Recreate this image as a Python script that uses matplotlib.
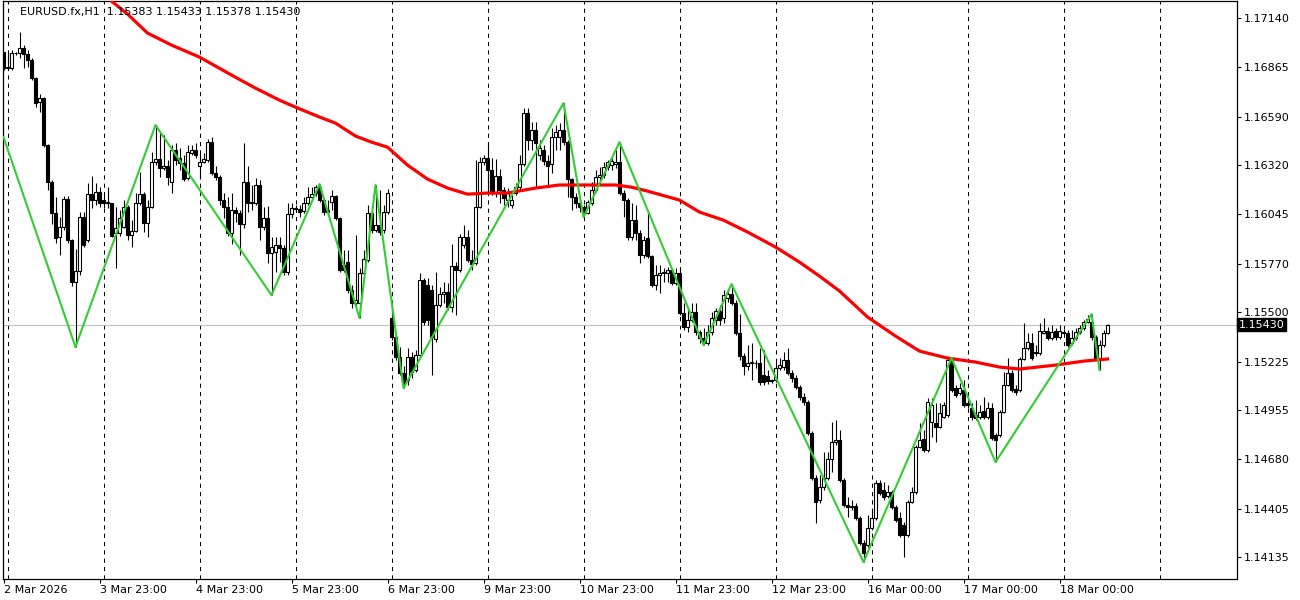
import numpy as np
import matplotlib.pyplot as plt
from matplotlib.transforms import blended_transform_factory

plt.rcParams['font.family'] = 'DejaVu Sans'

# заголовок графика (символ, период, OHLC последнего бара)
title_text = 'EURUSD.fx,H1  1.15383 1.15433 1.15378 1.15430'
last_price = 1.15430

# H1 свечи, по 10 в строке
opens = [
    1.16950, 1.16861, 1.16861, 1.16945, 1.16945, 1.16972, 1.16939, 1.16906, 1.16805, 1.16671,
    1.16694, 1.16432, 1.16225, 1.16053, 1.15919, 1.15975, 1.16131, 1.15902, 1.15668, 1.15729,
    1.16030, 1.15902, 1.16158, 1.16125, 1.16170, 1.16125, 1.16114, 1.16108, 1.15941, 1.15941,
    1.15975, 1.16086, 1.15930, 1.15952, 1.16108, 1.16158, 1.15997, 1.16086, 1.16337, 1.16354,
    1.16303, 1.16315, 1.16225, 1.16404, 1.16359, 1.16331, 1.16248, 1.16387, 1.16404, 1.16315,
    1.16337, 1.16348, 1.16448, 1.16276, 1.16253, 1.16125, 1.16086, 1.15941, 1.16069, 1.16053,
    1.15991, 1.16225, 1.16108, 1.16108, 1.16209, 1.15975, 1.16025, 1.15830, 1.15835, 1.15874,
    1.15857, 1.15724, 1.16047, 1.16075, 1.16075, 1.16064, 1.16108, 1.16142, 1.16164, 1.16198,
    1.16125, 1.16069, 1.16114, 1.16147, 1.16025, 1.15763, 1.15779, 1.15623, 1.15551, 1.15551,
    1.15718, 1.15791, 1.16053, 1.15958, 1.15986, 1.15958, 1.16058, 1.15467, 1.15361, 1.15250,
    1.15161, 1.15122, 1.15250, 1.15177, 1.15261, 1.15679, 1.15651, 1.15623, 1.15350, 1.15540,
    1.15601, 1.15612, 1.15529, 1.15757, 1.15735, 1.15874, 1.15919, 1.15791, 1.15774, 1.16086,
    1.16337, 1.16359, 1.16292, 1.16170, 1.16259, 1.16181, 1.16125, 1.16097, 1.16164, 1.16198,
    1.16326, 1.16610, 1.16460, 1.16515, 1.16376, 1.16404, 1.16342, 1.16326, 1.16476, 1.16476,
    1.16515, 1.16448, 1.16242, 1.16142, 1.16108, 1.16086, 1.16053, 1.16108, 1.16181, 1.16253,
    1.16264, 1.16309, 1.16320, 1.16326, 1.16337, 1.16164, 1.16125, 1.15919, 1.16014, 1.15941,
    1.15818, 1.15913, 1.15813, 1.15651, 1.15707, 1.15718, 1.15718, 1.15735, 1.15662, 1.15718,
    1.15495, 1.15417, 1.15456, 1.15501, 1.15389, 1.15356, 1.15328, 1.15389, 1.15456, 1.15506,
    1.15467, 1.15579, 1.15601, 1.15551, 1.15384, 1.15255, 1.15200, 1.15216, 1.15216, 1.15216,
    1.15149, 1.15144, 1.15116, 1.15122, 1.15188, 1.15194, 1.15233, 1.15161, 1.15133, 1.15083,
    1.15027, 1.14999, 1.14826, 1.14575, 1.14453, 1.14525, 1.14575, 1.14681, 1.14776, 1.14787,
    1.14564, 1.14425, 1.14414, 1.14419, 1.14352, 1.14213, 1.14202, 1.14296, 1.14352, 1.14547,
    1.14508, 1.14475, 1.14497, 1.14414, 1.14352, 1.14313, 1.14257, 1.14441, 1.14497, 1.14748,
    1.14793, 1.14731, 1.14887, 1.14882, 1.14860, 1.14915, 1.14926, 1.15233, 1.15077, 1.15049,
    1.15066, 1.14993, 1.14965, 1.14926, 1.14915, 1.14949, 1.14915, 1.14965, 1.14815, 1.14815,
    1.14943, 1.15094, 1.15161, 1.15071, 1.15066, 1.15239, 1.15300, 1.15328, 1.15278, 1.15272,
    1.15384, 1.15395, 1.15356, 1.15395, 1.15361, 1.15389, 1.15384, 1.15328, 1.15356, 1.15389,
    1.15411, 1.15445, 1.15445, 1.15361, 1.15244, 1.15317, 1.15383,
]
highs = [
    1.16950, 1.16945, 1.16961, 1.16950, 1.17062, 1.16989, 1.16961, 1.16917, 1.16811, 1.16716,
    1.16699, 1.16437, 1.16237, 1.16142, 1.16030, 1.16147, 1.16147, 1.15908, 1.15852, 1.16058,
    1.16058, 1.16220, 1.16259, 1.16220, 1.16198, 1.16153, 1.16198, 1.16108, 1.16086, 1.16069,
    1.16125, 1.16097, 1.16014, 1.16164, 1.16281, 1.16170, 1.16125, 1.16393, 1.16543, 1.16499,
    1.16487, 1.16348, 1.16432, 1.16443, 1.16415, 1.16376, 1.16432, 1.16432, 1.16443, 1.16387,
    1.16387, 1.16465, 1.16476, 1.16315, 1.16264, 1.16164, 1.16142, 1.16164, 1.16086, 1.16069,
    1.16443, 1.16315, 1.16209, 1.16248, 1.16237, 1.16086, 1.16092, 1.15919, 1.15919, 1.15919,
    1.15874, 1.16108, 1.16108, 1.16097, 1.16097, 1.16142, 1.16198, 1.16198, 1.16209, 1.16214,
    1.16136, 1.16125, 1.16181, 1.16153, 1.16030, 1.15846, 1.15846, 1.15651, 1.15930, 1.15746,
    1.15846, 1.16097, 1.16097, 1.16209, 1.16181, 1.16097, 1.16186, 1.15523, 1.15372, 1.15306,
    1.15200, 1.15300, 1.15278, 1.15289, 1.15718, 1.15690, 1.15690, 1.15651, 1.15724, 1.15640,
    1.15668, 1.15662, 1.15880, 1.15779, 1.15935, 1.15986, 1.15958, 1.15846, 1.16348, 1.16365,
    1.16376, 1.16448, 1.16359, 1.16354, 1.16298, 1.16198, 1.16192, 1.16153, 1.16220, 1.16376,
    1.16638, 1.16638, 1.16560, 1.16560, 1.16460, 1.16432, 1.16376, 1.16526, 1.16543, 1.16554,
    1.16666, 1.16460, 1.16248, 1.16164, 1.16125, 1.16097, 1.16125, 1.16225, 1.16292, 1.16309,
    1.16337, 1.16348, 1.16359, 1.16404, 1.16448, 1.16181, 1.16136, 1.16108, 1.16097, 1.15958,
    1.15924, 1.16058, 1.15818, 1.15763, 1.15763, 1.15746, 1.15752, 1.15746, 1.15746, 1.15746,
    1.15551, 1.15512, 1.15551, 1.15551, 1.15400, 1.15411, 1.15428, 1.15501, 1.15523, 1.15540,
    1.15623, 1.15623, 1.15657, 1.15568, 1.15489, 1.15272, 1.15317, 1.15328, 1.15233, 1.15300,
    1.15289, 1.15177, 1.15127, 1.15222, 1.15244, 1.15278, 1.15300, 1.15177, 1.15149, 1.15094,
    1.15049, 1.15010, 1.14837, 1.14592, 1.14592, 1.14720, 1.14720, 1.14887, 1.14899, 1.14843,
    1.14575, 1.14469, 1.14453, 1.14436, 1.14363, 1.14230, 1.14369, 1.14397, 1.14564, 1.14564,
    1.14553, 1.14536, 1.14508, 1.14425, 1.14386, 1.14330, 1.14453, 1.14525, 1.14759, 1.14882,
    1.14843, 1.15021, 1.15021, 1.14993, 1.14993, 1.14999, 1.15244, 1.15244, 1.15094, 1.15105,
    1.15122, 1.15010, 1.14993, 1.15010, 1.14982, 1.15027, 1.14999, 1.14993, 1.14826, 1.14954,
    1.15166, 1.15244, 1.15177, 1.15094, 1.15250, 1.15439, 1.15384, 1.15384, 1.15317, 1.15439,
    1.15467, 1.15417, 1.15428, 1.15411, 1.15428, 1.15406, 1.15400, 1.15400, 1.15411, 1.15428,
    1.15456, 1.15484, 1.15489, 1.15372, 1.15345, 1.15400, 1.15433,
]
lows = [
    1.16850, 1.16850, 1.16850, 1.16933, 1.16917, 1.16861, 1.16867, 1.16794, 1.16644, 1.16616,
    1.16421, 1.16181, 1.15991, 1.15885, 1.15818, 1.15958, 1.15885, 1.15646, 1.15306, 1.15707,
    1.15863, 1.15891, 1.16080, 1.16097, 1.16086, 1.16080, 1.16080, 1.15919, 1.15746, 1.15924,
    1.15969, 1.15902, 1.15863, 1.15947, 1.16097, 1.15947, 1.15919, 1.16080, 1.16320, 1.16253,
    1.16292, 1.16209, 1.16164, 1.16320, 1.16292, 1.16231, 1.16237, 1.16376, 1.16359, 1.16248,
    1.16331, 1.16337, 1.16264, 1.16237, 1.16097, 1.16025, 1.15924, 1.15880, 1.16002, 1.15818,
    1.15969, 1.16058, 1.16069, 1.16097, 1.15902, 1.15958, 1.15774, 1.15595, 1.15724, 1.15779,
    1.15707, 1.15707, 1.16025, 1.16058, 1.16030, 1.16053, 1.16097, 1.16125, 1.16147, 1.16114,
    1.16041, 1.16041, 1.16069, 1.16014, 1.15724, 1.15724, 1.15607, 1.15523, 1.15529, 1.15467,
    1.15707, 1.15779, 1.15941, 1.15947, 1.15930, 1.15941, 1.16047, 1.15345, 1.15233, 1.15149,
    1.15077, 1.15094, 1.15133, 1.15166, 1.15250, 1.15428, 1.15428, 1.15149, 1.15333, 1.15529,
    1.15551, 1.15512, 1.15501, 1.15484, 1.15724, 1.15857, 1.15779, 1.15735, 1.15763, 1.16080,
    1.16320, 1.16170, 1.16153, 1.16142, 1.16108, 1.16097, 1.16086, 1.16080, 1.16153, 1.16181,
    1.16315, 1.16404, 1.16404, 1.16198, 1.16348, 1.16320, 1.16209, 1.16276, 1.16404, 1.16404,
    1.16432, 1.16142, 1.16069, 1.16080, 1.16058, 1.16030, 1.16047, 1.16097, 1.16170, 1.16209,
    1.16248, 1.16292, 1.16292, 1.16303, 1.16153, 1.16030, 1.15902, 1.15902, 1.15902, 1.15774,
    1.15802, 1.15802, 1.15640, 1.15623, 1.15607, 1.15668, 1.15668, 1.15651, 1.15651, 1.15484,
    1.15400, 1.15389, 1.15445, 1.15372, 1.15328, 1.15317, 1.15317, 1.15372, 1.15428, 1.15428,
    1.15439, 1.15556, 1.15540, 1.15372, 1.15233, 1.15149, 1.15177, 1.15122, 1.15188, 1.15094,
    1.15094, 1.15099, 1.15105, 1.15110, 1.15177, 1.15177, 1.15149, 1.15110, 1.15071, 1.15010,
    1.14982, 1.14815, 1.14564, 1.14324, 1.14436, 1.14508, 1.14564, 1.14609, 1.14759, 1.14553,
    1.14414, 1.14358, 1.14397, 1.14341, 1.14202, 1.14107, 1.14191, 1.14285, 1.14341, 1.14480,
    1.14453, 1.14464, 1.14402, 1.14330, 1.14246, 1.14135, 1.14246, 1.14436, 1.14486, 1.14742,
    1.14720, 1.14720, 1.14804, 1.14776, 1.14854, 1.14910, 1.14915, 1.15055, 1.15027, 1.15038,
    1.14971, 1.14965, 1.14899, 1.14899, 1.14904, 1.14904, 1.14904, 1.14787, 1.14664, 1.14804,
    1.14938, 1.15088, 1.15055, 1.15038, 1.15055, 1.15233, 1.15289, 1.15233, 1.15255, 1.15261,
    1.15378, 1.15345, 1.15345, 1.15345, 1.15350, 1.15372, 1.15306, 1.15317, 1.15345, 1.15378,
    1.15400, 1.15439, 1.15345, 1.15233, 1.15177, 1.15306, 1.15378,
]
closes = [
    1.16861, 1.16867, 1.16945, 1.16945, 1.16972, 1.16939, 1.16906, 1.16805, 1.16666, 1.16694,
    1.16432, 1.16225, 1.16053, 1.15913, 1.15975, 1.16131, 1.15902, 1.15668, 1.15729, 1.16030,
    1.15874, 1.16158, 1.16125, 1.16170, 1.16108, 1.16108, 1.16108, 1.15924, 1.15969, 1.16025,
    1.16086, 1.15930, 1.15952, 1.16108, 1.16158, 1.15997, 1.16086, 1.16337, 1.16354, 1.16303,
    1.16315, 1.16253, 1.16404, 1.16348, 1.16331, 1.16242, 1.16393, 1.16404, 1.16376, 1.16337,
    1.16354, 1.16448, 1.16276, 1.16253, 1.16125, 1.16086, 1.15941, 1.16069, 1.16053, 1.15991,
    1.16225, 1.16108, 1.16114, 1.16209, 1.15975, 1.16025, 1.15830, 1.15863, 1.15874, 1.15857,
    1.15724, 1.16047, 1.16080, 1.16080, 1.16058, 1.16108, 1.16142, 1.16158, 1.16198, 1.16125,
    1.16058, 1.16058, 1.16147, 1.16025, 1.15735, 1.15735, 1.15623, 1.15551, 1.15568, 1.15718,
    1.15796, 1.16053, 1.15958, 1.15986, 1.15947, 1.16058, 1.16164, 1.15361, 1.15250, 1.15161,
    1.15105, 1.15250, 1.15166, 1.15261, 1.15679, 1.15445, 1.15456, 1.15361, 1.15540, 1.15601,
    1.15612, 1.15529, 1.15757, 1.15735, 1.15919, 1.15919, 1.15791, 1.15768, 1.16086, 1.16337,
    1.16359, 1.16292, 1.16170, 1.16259, 1.16181, 1.16136, 1.16164, 1.16125, 1.16198, 1.16326,
    1.16610, 1.16460, 1.16515, 1.16443, 1.16415, 1.16342, 1.16315, 1.16476, 1.16504, 1.16515,
    1.16448, 1.16242, 1.16142, 1.16108, 1.16086, 1.16053, 1.16114, 1.16181, 1.16253, 1.16264,
    1.16309, 1.16337, 1.16342, 1.16337, 1.16164, 1.16125, 1.15919, 1.16014, 1.15941, 1.15818,
    1.15902, 1.15813, 1.15651, 1.15707, 1.15718, 1.15724, 1.15735, 1.15662, 1.15718, 1.15495,
    1.15417, 1.15456, 1.15501, 1.15389, 1.15356, 1.15328, 1.15389, 1.15467, 1.15506, 1.15456,
    1.15595, 1.15601, 1.15551, 1.15384, 1.15255, 1.15200, 1.15216, 1.15222, 1.15214, 1.15110,
    1.15110, 1.15116, 1.15122, 1.15188, 1.15205, 1.15233, 1.15161, 1.15133, 1.15083, 1.15027,
    1.14999, 1.14826, 1.14575, 1.14441, 1.14525, 1.14575, 1.14681, 1.14776, 1.14787, 1.14564,
    1.14425, 1.14414, 1.14419, 1.14352, 1.14213, 1.14157, 1.14296, 1.14352, 1.14547, 1.14492,
    1.14469, 1.14497, 1.14414, 1.14341, 1.14257, 1.14257, 1.14441, 1.14497, 1.14748, 1.14787,
    1.14731, 1.14999, 1.14982, 1.14860, 1.14938, 1.14982, 1.15233, 1.15066, 1.15038, 1.15077,
    1.14982, 1.14982, 1.14915, 1.14910, 1.14943, 1.14915, 1.14965, 1.14798, 1.14787, 1.14943,
    1.15094, 1.15161, 1.15066, 1.15055, 1.15239, 1.15300, 1.15333, 1.15244, 1.15272, 1.15395,
    1.15395, 1.15356, 1.15389, 1.15361, 1.15395, 1.15384, 1.15317, 1.15356, 1.15389, 1.15411,
    1.15445, 1.15462, 1.15361, 1.15244, 1.15317, 1.15384, 1.15430,
]

# скользящая средняя (красная линия), снятая по точкам
ma_idx = [22, 27, 31, 36, 42, 49, 57, 63, 69, 73, 79, 83, 88, 92, 96, 101, 106, 111, 116, 121,
          126, 133, 139, 145, 153, 157, 161, 169, 174, 180, 186, 193, 199, 204, 209, 216, 223,
          229, 236, 243, 249, 254, 263, 270, 276]
ma_val = [1.17329, 1.17234, 1.17162, 1.17056, 1.16989, 1.16922, 1.16822, 1.16749, 1.16682,
          1.16643, 1.16588, 1.16554, 1.16482, 1.16448, 1.16420, 1.16320, 1.16242, 1.16192,
          1.16158, 1.16164, 1.16164, 1.16192, 1.16209, 1.16209, 1.16209, 1.16197, 1.16175,
          1.16125, 1.16058, 1.16013, 1.15947, 1.15863, 1.15779, 1.15701, 1.15618, 1.15473,
          1.15367, 1.15283, 1.15244, 1.15222, 1.15194, 1.15183, 1.15205, 1.15227, 1.15239]

# ZigZag (зелёная линия)
zz_idx = [0, 18, 38, 67, 79, 89, 93, 100, 140, 145, 154, 175, 182, 215, 237, 248, 272, 274]
zz_val = [1.16476, 1.15306, 1.16543, 1.15595, 1.16214, 1.15467, 1.16209, 1.15077, 1.16666,
          1.16030, 1.16448, 1.15317, 1.15657, 1.14107, 1.15244, 1.14664, 1.15489, 1.15177]

day_labels = ['2 Mar 2026', '3 Mar 23:00', '4 Mar 23:00', '5 Mar 23:00', '6 Mar 23:00',
              '9 Mar 23:00', '10 Mar 23:00', '11 Mar 23:00', '12 Mar 23:00',
              '16 Mar 00:00', '17 Mar 00:00', '18 Mar 00:00']
price_ticks = [1.17140, 1.16865, 1.16590, 1.16320, 1.16045, 1.15770, 1.15500,
               1.15225, 1.14955, 1.14680, 1.14405, 1.14135]

o = np.array(opens)
h = np.array(highs)
l = np.array(lows)
c = np.array(closes)
x = np.arange(len(o))

fig = plt.figure(figsize=(13, 6), dpi=100)
ax = fig.add_axes([2.5 / 1300, 21 / 600, 1234 / 1300, 578 / 600])

# разделители дней
for i in range(1, 309, 24):
    ax.axvline(i, color='black', lw=0.75, ls=(0, (4, 4)), zorder=1)

ax.axhline(last_price, color='#C0C0C0', lw=0.8, zorder=1)

# свечи
up = c >= o
ax.vlines(x, l, h, color='black', lw=0.8, zorder=2)
ax.bar(x[up], c[up] - o[up], bottom=o[up], width=0.55, color='white',
       edgecolor='black', linewidth=0.8, zorder=3)
ax.bar(x[~up], c[~up] - o[~up], bottom=o[~up], width=0.55, color='black',
       edgecolor='black', linewidth=0.8, zorder=3)

ax.plot(ma_idx, ma_val, color='#FF0000', lw=2.3, zorder=4)
ax.plot(zz_idx, zz_val, color='#32CD32', lw=1.5, zorder=5)

ax.set_xlim(-0.25, 308.25)
ax.set_ylim(1.140125, 1.172348)

ax.set_xticks(np.arange(len(day_labels)) * 24)
ax.set_xticklabels(day_labels, ha='left', fontsize=8)
ax.yaxis.tick_right()
ax.set_yticks(price_ticks)
ax.set_yticklabels([f'{p:.5f}' for p in price_ticks], fontsize=8)
ax.tick_params(axis='x', direction='out', length=3, pad=1.5)
ax.tick_params(axis='y', direction='out', length=3, pad=2)
for s in ax.spines.values():
    s.set_color('black')
    s.set_linewidth(0.9)

# метка текущей цены
tr = blended_transform_factory(ax.transAxes, ax.transData)
ax.text(1.0015, last_price, f'{last_price:.5f}', transform=tr, color='white', fontsize=8,
        va='center', ha='left', zorder=10,
        bbox=dict(facecolor='black', edgecolor='black', pad=1.2))

ax.text(0.0142, 0.981, title_text, transform=ax.transAxes, fontsize=8, va='center',
        ha='left', color='black', zorder=6)

fig.savefig('out.png', dpi=100)
